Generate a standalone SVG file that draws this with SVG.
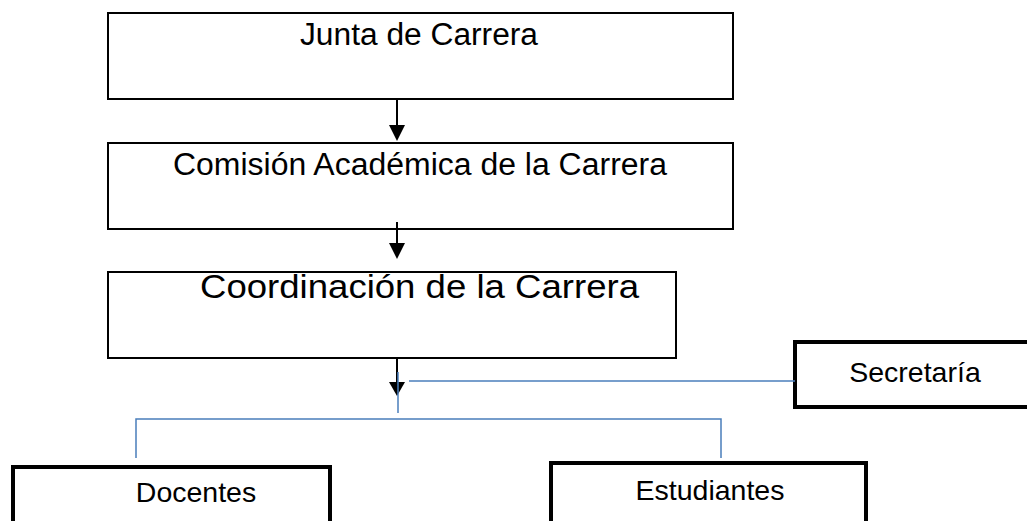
<svg xmlns="http://www.w3.org/2000/svg" width="1027" height="521" viewBox="0 0 1027 521">
<style>
.box{fill:#fff;stroke:#000;stroke-width:2}
.tbox{fill:#fff;stroke:#000;stroke-width:4}
.big{font-family:"Liberation Sans",Arial,sans-serif;font-size:31px;fill:#000;text-anchor:middle}
.small{font-family:"Liberation Sans",Arial,sans-serif;font-size:28.5px;fill:#000;text-anchor:middle}
.arr{stroke:#000;stroke-width:2;fill:none}
.blue{stroke:#4a7ebb;stroke-width:1.5;fill:none}
</style>
<g id="junta"><rect class="box" x="108" y="13" width="625" height="86"/><text class="big" x="419" y="45" textLength="238" lengthAdjust="spacingAndGlyphs">Junta de Carrera</text></g>
<g id="comision"><rect class="box" x="108" y="143" width="625" height="86"/><text class="big" x="420" y="175" textLength="494" lengthAdjust="spacingAndGlyphs">Comisión Académica de la Carrera</text></g>
<g id="coordinacion"><rect class="box" x="108" y="272" width="568" height="86"/><text class="big" x="419.5" y="298" style="font-size:33px" textLength="439" lengthAdjust="spacingAndGlyphs">Coordinación de la Carrera</text></g>
<g id="secretaria"><rect class="tbox" x="795" y="342" width="240" height="65"/><text class="small" x="915" y="382">Secretaría</text></g>
<g id="docentes"><rect class="tbox" x="13" y="467" width="317" height="70"/><text class="small" x="196" y="502">Docentes</text></g>
<g id="estudiantes"><rect class="tbox" x="551" y="463" width="315" height="70"/><text class="small" x="710" y="500">Estudiantes</text></g>
<g id="connectors">
<path class="arr" d="M397,99 V125"/><path d="M389,125 L405,125 L397,141 z" fill="#000"/>
<path class="arr" d="M397,222 V243"/><path d="M389,243 L405,243 L397,259 z" fill="#000"/>
<path class="arr" d="M397,358 V382"/><path d="M389,382 L405,382 L397,396 z" fill="#000"/>
<path class="blue" d="M398,372 V413"/>
<path class="blue" d="M409,381 H795"/>
<path class="blue" d="M136,458 V419 H721 V458"/>
</g>
</svg>
